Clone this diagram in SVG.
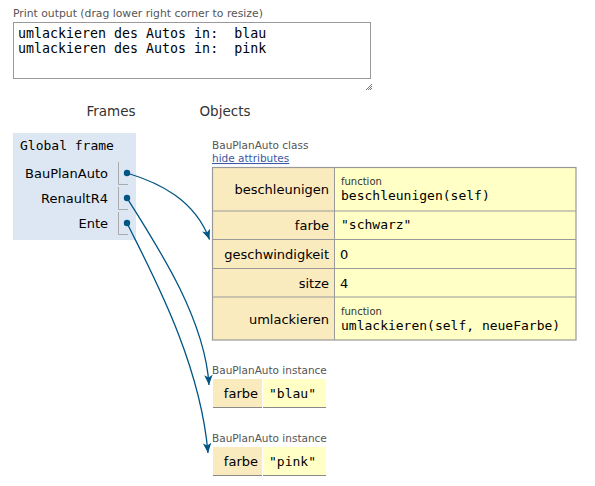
<svg xmlns="http://www.w3.org/2000/svg" width="595" height="486" viewBox="0 0 595 486" xml:space="preserve">
<style>
.sans{font-family:"DejaVu Sans","Noto Sans",sans-serif;fill:#000}
.mono{font-family:"DejaVu Sans Mono","Liberation Mono",monospace;fill:#000;white-space:pre}
.lbl{font-family:"DejaVu Sans","Noto Sans",sans-serif;fill:#555;font-size:10.5px}
.key{fill:#faebbf}
.val{fill:#ffffc6}
.grid{fill:none;stroke:#999;stroke-width:1}
.br{fill:none;stroke:#aaa;stroke-width:1}
.conn{fill:none;stroke:#005583;stroke-width:1.3}
.dot{fill:#005583}
</style>
<defs>
<marker id="ah" markerUnits="userSpaceOnUse" markerWidth="12" markerHeight="12" refX="10" refY="5" orient="auto" viewBox="0 0 12 10">
<path d="M0,0.8 L10,5 L0,9.2 L2.5,5 z" fill="#005583"/>
</marker>
</defs>
<rect width="595" height="486" fill="#fff"/>

<g id="print-output">
<text x="13" y="17" class="sans" style="fill:#555;font-size:10.8px">Print output (drag lower right corner to resize)</text>
<rect x="13.5" y="22.5" width="357" height="56" fill="#fff" stroke="#999" stroke-width="1"/>
<text x="18" y="38" class="mono" font-size="13.3">umlackieren des Autos in:  blau</text>
<text x="18" y="53" class="mono" font-size="13.3">umlackieren des Autos in:  pink</text>
<g stroke="#555" stroke-width="0.8">
<line x1="366" y1="90" x2="372" y2="84"/>
<line x1="368" y1="90" x2="372" y2="86"/>
<line x1="370" y1="90" x2="372" y2="88"/>
</g>
</g>

<g id="headers">
<text x="111" y="116" class="sans" font-size="13.5" text-anchor="middle" style="fill:#333">Frames</text>
<text x="225" y="116" class="sans" font-size="13.5" text-anchor="middle" style="fill:#333">Objects</text>
</g>

<g id="global-frame">
<rect x="13" y="133" width="123" height="107" fill="#dde7f3"/>
<text x="20" y="150" class="mono" font-size="13">Global frame</text>
<text x="108" y="178" class="sans" font-size="13" text-anchor="end">BauPlanAuto</text>
<text x="108" y="203" class="sans" font-size="13" text-anchor="end">RenaultR4</text>
<text x="108" y="228" class="sans" font-size="13" text-anchor="end">Ente</text>
<path class="br" d="M118.5,162 V184.5 H128"/>
<path class="br" d="M118.5,187 V209.5 H128"/>
<path class="br" d="M118.5,212 V234.5 H128"/>
</g>

<g id="class-BauPlanAuto">
<text x="212" y="149" class="lbl">BauPlanAuto class</text>
<text x="212" y="162" class="sans" font-size="10.5" style="fill:#3d58a2" text-decoration="underline">hide attributes</text>
<rect x="212" y="167" width="122.5" height="173" class="key"/>
<rect x="334.5" y="167" width="241.5" height="173" class="val"/>
<g class="grid">
<line x1="212" y1="211" x2="576" y2="211"/>
<line x1="212" y1="239.5" x2="576" y2="239.5"/>
<line x1="212" y1="268.5" x2="576" y2="268.5"/>
<line x1="212" y1="297" x2="576" y2="297"/>
<line x1="334.5" y1="167" x2="334.5" y2="340"/>
</g>
<rect x="212.5" y="167.5" width="363.5" height="172.5" fill="none" stroke="#999" stroke-width="1.2"/>
<text x="329" y="194" class="sans" font-size="13" text-anchor="end">beschleunigen</text>
<text x="341" y="185" class="sans" font-size="10" style="fill:#333">function</text>
<text x="341" y="200" class="mono" font-size="13">beschleunigen(self)</text>
<text x="329" y="230" class="sans" font-size="13" text-anchor="end">farbe</text>
<text x="341" y="229" class="mono" font-size="13">"schwarz"</text>
<text x="329" y="259" class="sans" font-size="13" text-anchor="end">geschwindigkeit</text>
<text x="340" y="259" class="sans" font-size="13">0</text>
<text x="329" y="288" class="sans" font-size="13" text-anchor="end">sitze</text>
<text x="340" y="288" class="sans" font-size="13">4</text>
<text x="329" y="324" class="sans" font-size="13" text-anchor="end">umlackieren</text>
<text x="341" y="315" class="sans" font-size="10" style="fill:#333">function</text>
<text x="341" y="330" class="mono" font-size="13">umlackieren(self, neueFarbe)</text>
</g>

<g id="instance-1">
<text x="212" y="374" class="lbl">BauPlanAuto instance</text>
<rect x="213" y="379" width="49" height="28" class="key"/>
<rect x="263" y="379" width="63" height="28" class="val"/>
<line x1="213" y1="407.5" x2="262" y2="407.5" stroke="#888" stroke-width="1"/>
<line x1="263" y1="407.5" x2="326" y2="407.5" stroke="#888" stroke-width="1"/>
<text x="258" y="398" class="sans" font-size="13" text-anchor="end">farbe</text>
<text x="269" y="398" class="mono" font-size="13">"blau"</text>
</g>

<g id="instance-2">
<text x="212" y="442" class="lbl">BauPlanAuto instance</text>
<rect x="213" y="447" width="49" height="28" class="key"/>
<rect x="263" y="447" width="63" height="28" class="val"/>
<line x1="213" y1="475.5" x2="262" y2="475.5" stroke="#888" stroke-width="1"/>
<line x1="263" y1="475.5" x2="326" y2="475.5" stroke="#888" stroke-width="1"/>
<text x="258" y="466" class="sans" font-size="13" text-anchor="end">farbe</text>
<text x="269" y="466" class="mono" font-size="13">"pink"</text>
</g>

<g id="connectors">
<path class="conn" d="M127,173 C160,183 195,200 209.5,239.5" marker-end="url(#ah)"/>
<path class="conn" d="M127,198 C160,250 205,320 209,385" marker-end="url(#ah)"/>
<path class="conn" d="M127,223 C150,270 200,360 208,453" marker-end="url(#ah)"/>
<circle class="dot" cx="127" cy="173" r="3.2"/>
<circle class="dot" cx="127" cy="198" r="3.2"/>
<circle class="dot" cx="127" cy="223" r="3.2"/>
</g>
</svg>
